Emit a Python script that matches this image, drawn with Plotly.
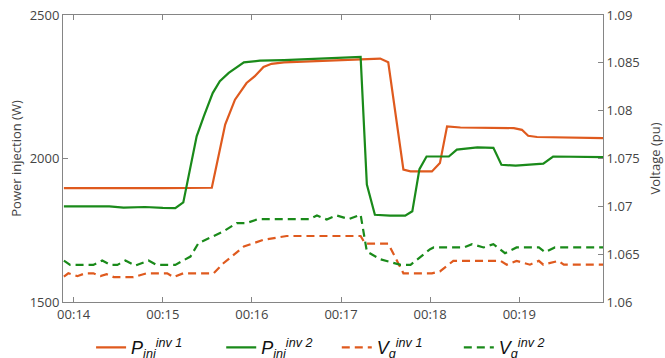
import plotly.graph_objects as go

# ---- data (time in minutes) ----
t_p1 = [13.89, 14.20, 14.60, 15.00, 15.30, 15.55, 15.70, 15.81, 15.94, 16.03, 16.13, 16.22,
        16.36, 16.73, 17.10, 17.44, 17.53, 17.70, 17.78, 18.02, 18.11, 18.19, 18.34, 18.94,
        19.03, 19.10, 19.20, 19.95]
p_inv1 = [1897, 1896, 1897, 1897, 1898, 1898, 2118, 2205, 2263, 2286, 2319, 2330,
          2335, 2339, 2344, 2348, 2335, 1961, 1955, 1955, 1984, 2112, 2108, 2106,
          2100, 2079, 2075, 2071]

t_p2 = [13.89, 14.20, 14.40, 14.56, 14.80, 15.00, 15.14, 15.23, 15.31, 15.38, 15.46, 15.56,
        15.64, 15.74, 15.91, 16.09, 16.36, 16.73, 17.10, 17.22, 17.29, 17.38, 17.55, 17.72,
        17.80, 17.88, 17.96, 18.21, 18.30, 18.53, 18.71, 18.80, 18.96, 19.27, 19.38, 19.95]
p_inv2 = [1833, 1832, 1833, 1829, 1831, 1828, 1827, 1847, 1972, 2077, 2147, 2228,
          2269, 2298, 2335, 2341, 2343, 2347, 2352, 2354, 1909, 1804, 1801, 1801,
          1816, 1963, 2007, 2007, 2031, 2039, 2037, 1978, 1975, 1982, 2007, 2005]

t_v1 = [13.89, 13.94, 14.04, 14.13, 14.22, 14.30, 14.37, 14.45, 14.67, 14.82, 15.05, 15.12,
        15.23, 15.57, 15.68, 15.91, 16.13, 16.39, 17.22, 17.27, 17.53, 17.70, 18.02, 18.11,
        18.26, 18.79, 18.86, 18.97, 19.12, 19.22, 19.27, 19.44, 19.50, 19.95]
v_inv1 = [1.06265, 1.0630, 1.0627, 1.0630, 1.0630, 1.0627, 1.0629, 1.0626, 1.0626, 1.0630, 1.0630, 1.0626,
          1.0630, 1.0630, 1.06405, 1.0658, 1.0665, 1.0669, 1.0669, 1.0661, 1.0661, 1.0630, 1.0630, 1.0632,
          1.0643, 1.0643, 1.0639, 1.0643, 1.0639, 1.0643, 1.0639, 1.0643, 1.0639, 1.0639]

t_v2 = [13.89, 13.96, 14.22, 14.32, 14.41, 14.49, 14.58, 14.69, 14.84, 14.93, 15.14, 15.31,
        15.40, 15.68, 15.83, 15.94, 16.07, 16.65, 16.73, 16.84, 16.95, 17.09, 17.22, 17.29,
        17.44, 17.67, 17.78, 18.00, 18.04, 18.38, 18.47, 18.60, 18.71, 18.84, 18.97, 19.22,
        19.29, 19.40, 19.95]
v_inv2 = [1.06433, 1.06388, 1.06388, 1.06433, 1.06388, 1.06388, 1.06433, 1.06380, 1.06433, 1.06388, 1.06388, 1.06475,
          1.06615, 1.06737, 1.06825, 1.06825, 1.06867, 1.06867, 1.06905, 1.06862, 1.06905, 1.06867, 1.06912, 1.06527,
          1.06447, 1.06388, 1.06388, 1.06552, 1.06570, 1.06570, 1.06605, 1.06570, 1.06605, 1.06510, 1.06570, 1.06570,
          1.06520, 1.06570, 1.06570]

x_tickvals = [14, 15, 16, 17, 18, 19]
x_ticktext = ["00:14", "00:15", "00:16", "00:17", "00:18", "00:19"]
p_tickvals = [1500, 2000, 2500]
v_tickvals = [1.06, 1.065, 1.07, 1.075, 1.08, 1.085, 1.09]
v_ticktext = ["1.06", "1.065", "1.07", "1.075", "1.08", "1.085", "1.09"]

ORANGE = "#DF5A1E"
GREEN = "#1A8A1A"
AXIS = "#858585"
TXT = "#444444"

fig = go.Figure()
fig.add_trace(go.Scatter(x=t_p1, y=p_inv1, mode="lines", line=dict(color=ORANGE, width=2.2),
                         legend="legend",
                         name="<i>P</i><sub><i>inj</i></sub><sup><i>inv 1</i></sup>"))
fig.add_trace(go.Scatter(x=t_p2, y=p_inv2, mode="lines", line=dict(color=GREEN, width=2.2),
                         legend="legend2",
                         name="<i>P</i><sub><i>inj</i></sub><sup><i>inv 2</i></sup>"))
fig.add_trace(go.Scatter(x=t_v1, y=v_inv1, mode="lines", yaxis="y2",
                         line=dict(color=ORANGE, width=2.2, dash="8px,5px"),
                         legend="legend3",
                         name="<i>V</i><sub><i>g</i></sub><sup><i>inv 1</i></sup>"))
fig.add_trace(go.Scatter(x=t_v2, y=v_inv2, mode="lines", yaxis="y2",
                         line=dict(color=GREEN, width=2.2, dash="8px,5px"),
                         legend="legend4",
                         name="<i>V</i><sub><i>g</i></sub><sup><i>inv 2</i></sup>"))

leg_common = dict(orientation="h", xanchor="left", y=-0.095, yanchor="top",
                  font=dict(family="Liberation Sans, Arial, sans-serif", size=18, color="#111111"),
                  bgcolor="rgba(0,0,0,0)", itemwidth=30)

fig.update_layout(
    width=665, height=358,
    margin=dict(l=63, r=62, t=15, b=56, autoexpand=False),
    paper_bgcolor="white", plot_bgcolor="white",
    font=dict(family="Open Sans, sans-serif", size=13, color=TXT),
    showlegend=True,
    legend=dict(x=0.052, **leg_common),
    legend2=dict(x=0.293, **leg_common),
    legend3=dict(x=0.507, **leg_common),
    legend4=dict(x=0.733, **leg_common),
    xaxis=dict(range=[13.88, 19.94], tickvals=x_tickvals, ticktext=x_ticktext, automargin=False,
               showgrid=False, zeroline=False, showline=True, linecolor=AXIS, linewidth=1,
               mirror="ticks", ticks="inside", ticklen=5, tickcolor=AXIS,
               tickfont=dict(size=13, color=TXT)),
    yaxis=dict(range=[1500, 2500], tickvals=p_tickvals, ticktext=[str(v) for v in p_tickvals],
               automargin=False,
               showgrid=False, zeroline=False, showline=True, linecolor=AXIS, linewidth=1,
               ticks="inside", ticklen=5, tickcolor=AXIS,
               title=dict(text="Power injection (W)", font=dict(size=13, color=TXT), standoff=5),
               tickfont=dict(size=13, color=TXT)),
    yaxis2=dict(range=[1.06, 1.09], tickvals=v_tickvals, ticktext=v_ticktext,
                overlaying="y", side="right", automargin=False,
                showgrid=False, zeroline=False, showline=True, linecolor=AXIS, linewidth=1,
                ticks="inside", ticklen=5, tickcolor=AXIS,
                title=dict(text="Voltage (pu)", font=dict(size=13, color=TXT), standoff=12),
                tickfont=dict(size=13, color=TXT)),
)

fig.write_html("out.html", config={"displayModeBar": False},
               post_script="document.body.style.margin='0';document.body.style.overflow='hidden';")
